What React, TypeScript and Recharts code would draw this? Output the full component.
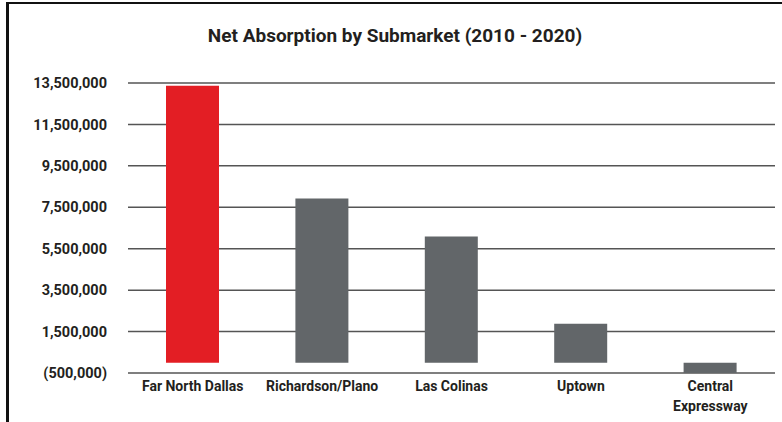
import React from "react";
import { BarChart, Bar, XAxis, YAxis, CartesianGrid, Cell } from "recharts";

const submarkets = [
  "Far North Dallas",
  "Richardson/Plano",
  "Las Colinas",
  "Uptown",
  "Central Expressway",
];
const netAbsorption = [13370000, 7930000, 6090000, 1880000, -500000];
const yTicks = [
  -500000, 1500000, 3500000, 5500000, 7500000, 9500000, 11500000, 13500000,
];

const data = submarkets.map((name, i) => ({ name, value: netAbsorption[i] }));

const FONT = "Roboto, 'Open Sans', sans-serif";
const TEXT = "#231f20";
const RED = "#e31e24";
const GRAY = "#626669";

const fmt = (v: number) => {
  const s = Math.abs(v).toLocaleString("en-US");
  return v < 0 ? `(${s})` : s;
};

// wrap long category names onto two lines
function CategoryTick(props: any) {
  const { x, y, payload } = props;
  const text: string = payload.value;
  let lines = [text];
  if (text.length > 17) {
    const cut = text.lastIndexOf(" ");
    lines = [text.slice(0, cut), text.slice(cut + 1)];
  }
  return (
    <g transform={`translate(${x},${y})`}>
      {lines.map((l, i) => (
        <text
          key={i}
          x={0}
          y={i * 20}
          dy={10}
          textAnchor="middle"
          fill={TEXT}
          fontFamily={FONT}
          fontWeight={700}
          fontSize={14}
        >
          {l}
        </text>
      ))}
    </g>
  );
}

export default function App() {
  return (
    <div
      style={{
        position: "absolute",
        left: 0,
        top: 0,
        width: 782,
        height: 422,
        background: "#fff",
        overflow: "hidden",
      }}
    >
      <div style={{ position: "absolute", left: 6, top: 2, width: 776, height: 2, background: "#111" }} />
      <div style={{ position: "absolute", left: 6, top: 2, width: 3, height: 420, background: "#111" }} />
      <div
        style={{
          position: "absolute",
          left: 0,
          width: 790,
          top: 24,
          textAlign: "center",
          fontFamily: FONT,
          fontWeight: 700,
          fontSize: 19,
          color: TEXT,
        }}
      >
        Net Absorption by Submarket (2010 - 2020)
      </div>
      <BarChart
        width={782}
        height={422}
        data={data}
        margin={{ top: 83, right: 7, bottom: 0, left: 8 }}
        barSize={53}
      >
        <CartesianGrid vertical={false} stroke="#555" strokeWidth={1.5} />
        <XAxis
          dataKey="name"
          axisLine={false}
          tickLine={false}
          interval={0}
          tick={<CategoryTick />}
          height={49}
        />
        <YAxis
          width={120}
          domain={[-500000, 13500000]}
          ticks={yTicks}
          tickFormatter={fmt}
          axisLine={false}
          tickLine={false}
          tickMargin={15}
          tick={{ fill: TEXT, fontFamily: FONT, fontWeight: 700, fontSize: 14.5 }}
        />
        <Bar dataKey="value" isAnimationActive={false}>
          {data.map((d, i) => (
            <Cell key={d.name} fill={i === 0 ? RED : GRAY} />
          ))}
        </Bar>
      </BarChart>
    </div>
  );
}
